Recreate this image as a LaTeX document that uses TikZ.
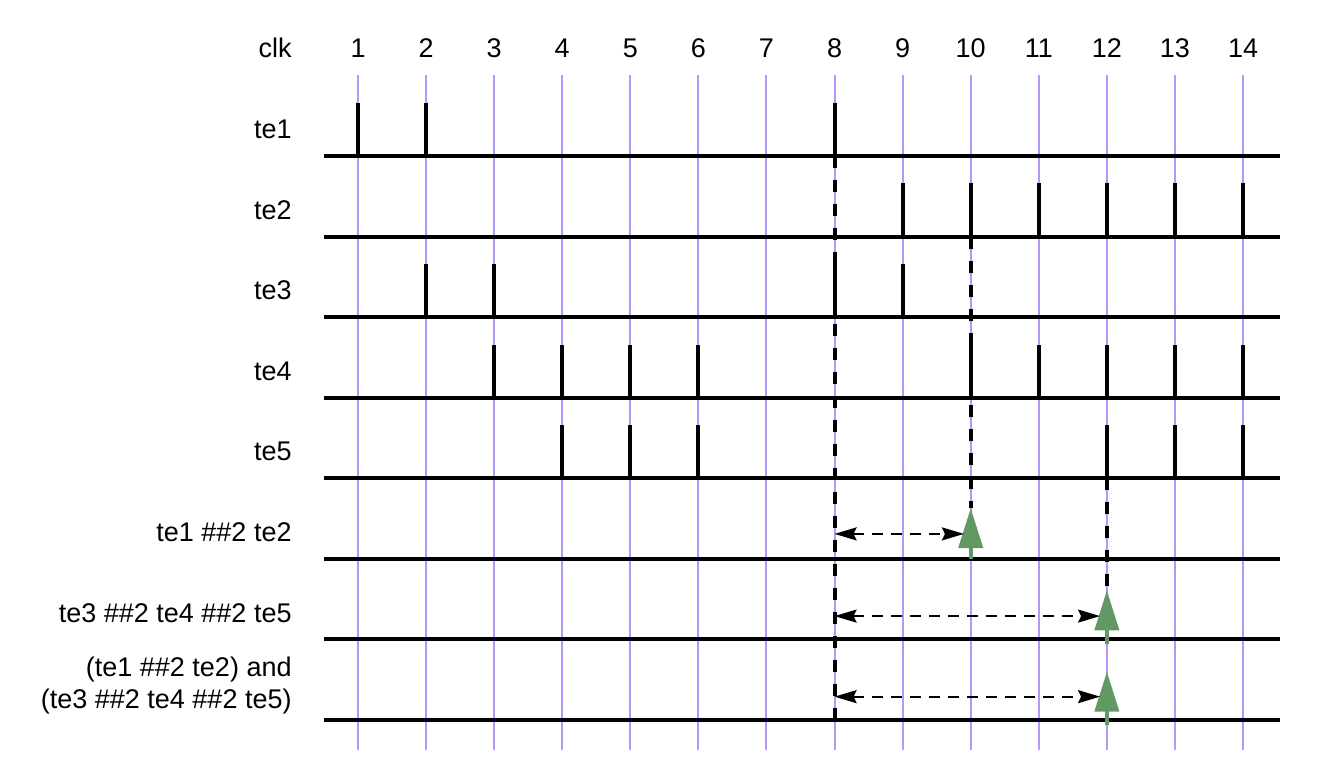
\documentclass[tikz,border=0pt]{standalone}
\usepackage{fontspec}
\setmainfont{Liberation Sans}
\usetikzlibrary{arrows.meta}
\definecolor{clkline}{RGB}{185,150,250}
\definecolor{hitgreen}{RGB}{98,152,98}

\begin{document}
\begin{tikzpicture}[x=34.04pt, y=-40.29pt, font=\fontsize{13.5}{16}\selectfont,
  sig/.style={black, line width=2pt},
  pulse/.style={black, line width=2pt},
  dashv/.style={black, line width=2pt, dash pattern=on 6pt off 6pt},
  span/.style={black, line width=1pt, dash pattern=on 5.5pt off 4pt,
    {Stealth[length=11pt,width=6.5pt,inset=1.5pt]}-{Stealth[length=11pt,width=6.5pt,inset=1.5pt]}},
  hit/.style={hitgreen, line width=2pt, -{Triangle[length=20pt,width=12pt]}},
  lbl/.style={anchor=east, inner sep=0pt}]
\useasboundingbox (-4.259,-0.936) rectangle (15.351,8.708);
% clock grid
\foreach \c in {1,...,14} {
 \draw[clkline, line width=1pt] (\c,0)--(\c,8.37);
 \node (n\c) at (\c,-0.34) {\c};
}
\node[lbl] (clk) at (0.03,-0.34) {clk};
% signal rows
\foreach \r in {1,...,8} {
 \draw[sig] (0.5,\r)--(14.55,\r);
}
\foreach \r/\name in {1/te1,2/te2,3/te3,4/te4,5/te5} {
 \node[lbl] (l\r) at (0.03,\r-0.33) {\name};
}
\node[lbl] (l6) at (0.03,5.67) {te1 \#\#2 te2};
\node[lbl] (l7) at (0.03,6.67) {te3 \#\#2 te4 \#\#2 te5};
\node[lbl, align=right] (l8) at (0.03,7.57) {(te1 \#\#2 te2) and\\(te3 \#\#2 te4 \#\#2 te5)};
% pulses
\foreach \r/\list in {1/{1,2,8}, 2/{9,10,11,12,13,14}, 3/{2,3,8,9},
  4/{3,4,5,6,10,11,12,13,14}, 5/{4,5,6,12,13,14}} {
 \foreach \c in \list {
  \draw[pulse] (\c,\r)--++(0,-0.66);
 }
}
% match points
\coordinate (tip6) at (10,5.37);
\coordinate (tip7) at (12,6.39);
\coordinate (tip8) at (12,7.40);
\draw[dashv] (8,1)--(8,8);
\draw[dashv] (10,2)--(tip6);
\draw[dashv] (12,5)--(tip7);
\draw[hit] (10,6)--(tip6);
\draw[hit] (12,7.06)--(tip7);
\draw[hit] (12,8.06)--(tip8);
% windows
\coordinate (a6) at (8,5.69);  \coordinate (b6) at (9.9,5.69);
\coordinate (a7) at (8,6.71);  \coordinate (b7) at (11.9,6.71);
\coordinate (a8) at (8,7.71);  \coordinate (b8) at (11.9,7.71);
\foreach \r in {6,7,8} {
 \draw[span] (a\r)--(b\r);
}
\end{tikzpicture}
\end{document}
